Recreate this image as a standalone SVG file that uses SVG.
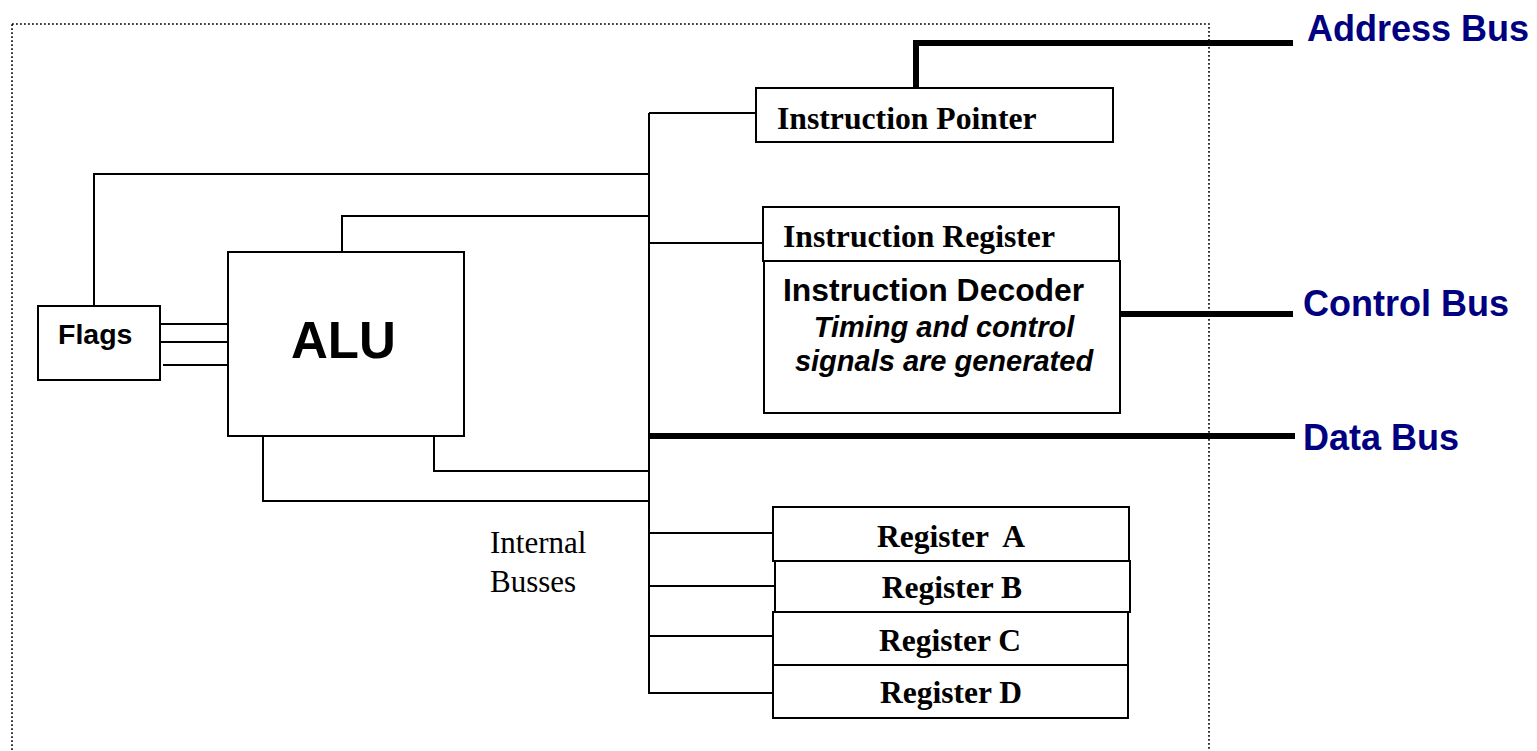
<svg xmlns="http://www.w3.org/2000/svg" width="1537" height="751" viewBox="0 0 1537 751">
  <style>
    .box { fill: #ffffff; stroke: #000000; stroke-width: 2; }
    .wire { fill: none; stroke: #000000; stroke-width: 2; }
    .bus { fill: none; stroke: #000000; stroke-width: 6; }
    .frame { fill: none; stroke: #000000; stroke-width: 1.6; stroke-dasharray: 1.8 2.2; }
    .sans { font-family: "Liberation Sans", Arial, sans-serif; font-weight: bold; fill: #000000; }
    .serif { font-family: "Liberation Serif", "Times New Roman", serif; font-weight: bold; fill: #000000; }
    .plain { font-family: "Liberation Serif", "Times New Roman", serif; fill: #000000; }
    .buslabel { font-family: "Liberation Sans", Arial, sans-serif; font-weight: bold; font-size: 36px; fill: #000080; }
  </style>
  <rect width="1537" height="751" fill="#ffffff"/>

  <!-- CPU boundary -->
  <rect class="frame" x="12" y="24" width="1197" height="760"/>

  <!-- connectors -->
  <g id="connectors">
    <!-- internal bus trunk -->
    <line class="wire" x1="649" y1="113" x2="649" y2="694"/>
    <line class="wire" x1="649" y1="113" x2="756" y2="113"/>
    <polyline class="wire" points="94,306 94,174 649,174"/>
    <polyline class="wire" points="342,252 342,216 649,216"/>
    <line class="wire" x1="649" y1="243" x2="763" y2="243"/>
    <polyline class="wire" points="434,436 434,471 649,471"/>
    <polyline class="wire" points="263,436 263,501 649,501"/>
    <line class="wire" x1="649" y1="533" x2="773" y2="533"/>
    <line class="wire" x1="649" y1="586" x2="775" y2="586"/>
    <line class="wire" x1="649" y1="636" x2="773" y2="636"/>
    <line class="wire" x1="649" y1="693" x2="773" y2="693"/>
    <!-- flags to ALU -->
    <line class="wire" x1="160" y1="324" x2="228" y2="324"/>
    <line class="wire" x1="161" y1="342" x2="230" y2="342"/>
    <line class="wire" x1="163" y1="365" x2="231" y2="365"/>
    <!-- external buses -->
    <polyline class="bus" points="916,88 916,43 1293,43"/>
    <line class="bus" x1="1120" y1="314" x2="1293" y2="314"/>
    <line class="bus" x1="649" y1="436" x2="1295" y2="436"/>
  </g>

  <g id="flags">
    <rect class="box" x="38" y="306" width="122" height="74"/>
    <text class="sans" x="58" y="344" font-size="28.5">Flags</text>
  </g>

  <g id="alu">
    <rect class="box" x="228" y="252" width="236" height="184"/>
    <text class="sans" x="291" y="358" font-size="51">ALU</text>
  </g>

  <g id="instruction-pointer">
    <rect class="box" x="756" y="88" width="357" height="54"/>
    <text class="serif" x="777" y="129" font-size="31.7">Instruction Pointer</text>
  </g>

  <g id="instruction-register">
    <rect class="box" x="763" y="207" width="356" height="54"/>
    <text class="serif" x="783" y="247" font-size="31.7">Instruction Register</text>
  </g>

  <g id="instruction-decoder">
    <rect class="box" x="764" y="261" width="356" height="152"/>
    <text class="sans" x="783" y="301" font-size="31.9">Instruction Decoder</text>
    <text class="sans" x="944" y="337" font-size="29" font-style="italic" text-anchor="middle">Timing and control</text>
    <text class="sans" x="944" y="371" font-size="29" font-style="italic" text-anchor="middle">signals are generated</text>
  </g>

  <g id="register-a">
    <rect class="box" x="773" y="507" width="356" height="54"/>
    <text class="serif" x="951" y="547" font-size="31.5" text-anchor="middle" xml:space="preserve">Register  A</text>
  </g>
  <g id="register-b">
    <rect class="box" x="775" y="561" width="355" height="51"/>
    <text class="serif" x="952" y="598" font-size="31.5" text-anchor="middle">Register B</text>
  </g>
  <g id="register-c">
    <rect class="box" x="773" y="612" width="355" height="53"/>
    <text class="serif" x="950" y="651" font-size="31.5" text-anchor="middle">Register C</text>
  </g>
  <g id="register-d">
    <rect class="box" x="773" y="665" width="355" height="53"/>
    <text class="serif" x="951" y="703" font-size="31.5" text-anchor="middle">Register D</text>
  </g>

  <g id="internal-busses-label">
    <text class="plain" x="490" y="553" font-size="31">Internal</text>
    <text class="plain" x="490" y="592" font-size="31">Busses</text>
  </g>

  <g id="bus-labels">
    <text class="buslabel" x="1307" y="41">Address Bus</text>
    <text class="buslabel" x="1303" y="316">Control Bus</text>
    <text class="buslabel" x="1303" y="450">Data Bus</text>
  </g>
</svg>
